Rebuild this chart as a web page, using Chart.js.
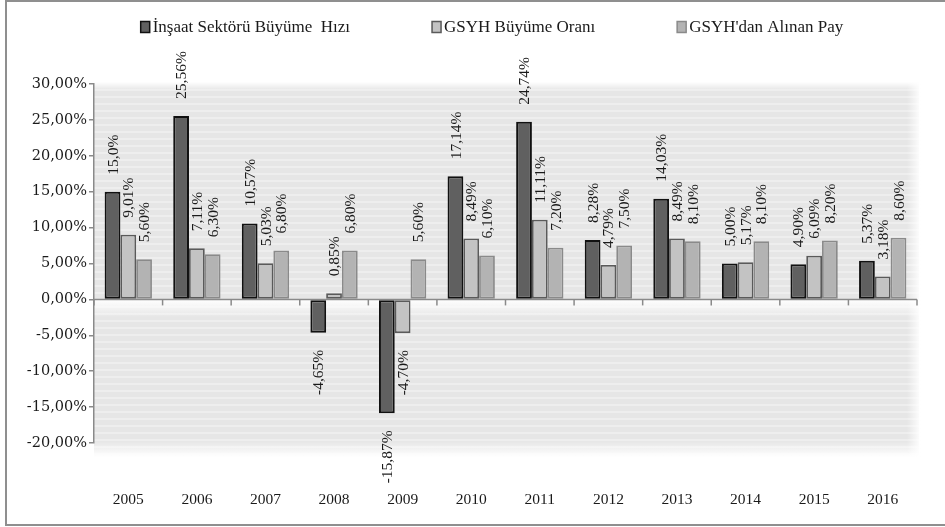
<!DOCTYPE html>
<html><head><meta charset="utf-8">
<script src="https://cdn.jsdelivr.net/npm/chart.js@4.4.1/dist/chart.umd.min.js"></script>
<style>html,body{margin:0;padding:0;background:#fff}#wrap{width:945px;height:527px;position:relative}</style>
</head><body><div id="wrap"><canvas id="c" width="945" height="527"></canvas></div>
<script>
const years = ['2005','2006','2007','2008','2009','2010','2011','2012','2013','2014','2015','2016'];
const insaatGrowth = [15.0, 25.56, 10.57, -4.65, -15.87, 17.14, 24.74, 8.28, 14.03, 5.00, 4.90, 5.37];
const gdpGrowth = [9.01, 7.11, 5.03, 0.85, -4.70, 8.49, 11.11, 4.79, 8.49, 5.17, 6.09, 3.18];
const gdpShare = [5.60, 6.30, 6.80, 6.80, 5.60, 6.10, 7.20, 7.50, 8.10, 8.10, 8.20, 8.60];
const seriesNames = ['İnşaat Sektörü Büyüme  Hızı', 'GSYH Büyüme Oranı', "GSYH'dan Alınan Pay"];
const yTicks = [-20, -15, -10, -5, 0, 5, 10, 15, 20, 25, 30];
const labelOverrides = {0: {0: '15,0%'}};

const fmt = v => v.toFixed(2).replace('.', ',') + '%';
const SERIF = "'Liberation Serif', 'Times New Roman', serif";

const frame = {
  id: 'frame',
  beforeDraw(chart) {
    const ctx = chart.ctx;
    ctx.save();
    ctx.strokeStyle = '#8f8f8f';
    ctx.lineWidth = 2;
    ctx.strokeRect(6, 1, 960, 524);
    // plot background
    const a = chart.chartArea;
    const y0 = chart.scales.y.getPixelForValue(0);
    const L = a.left, R = a.right + 2, T = a.top - 2, B = a.bottom + 14;
    ctx.fillStyle = '#e6e6e6';
    ctx.fillRect(L, T, R - L, B - T);
    ctx.strokeStyle = '#f0f0f0';
    ctx.lineWidth = 1.6;
    for (let y = T + 8; y < B; y += 7) {
      ctx.beginPath(); ctx.moveTo(L, y); ctx.lineTo(R, y); ctx.stroke();
    }
    let g = ctx.createLinearGradient(0, T, 0, T + 8);
    g.addColorStop(0, 'rgba(255,255,255,1)'); g.addColorStop(1, 'rgba(255,255,255,0)');
    ctx.fillStyle = g; ctx.fillRect(L, T, R - L, 8);
    g = ctx.createLinearGradient(0, y0, 0, y0 + 18);
    g.addColorStop(0, 'rgba(255,255,255,1)'); g.addColorStop(1, 'rgba(255,255,255,0)');
    ctx.fillStyle = g; ctx.fillRect(L, y0, R - L, 18);
    g = ctx.createLinearGradient(0, B - 16, 0, B);
    g.addColorStop(0, 'rgba(255,255,255,0)'); g.addColorStop(1, 'rgba(255,255,255,1)');
    ctx.fillStyle = g; ctx.fillRect(L, B - 16, R - L, 17);
    g = ctx.createLinearGradient(R - 12, 0, R + 2, 0);
    g.addColorStop(0, 'rgba(255,255,255,0)'); g.addColorStop(1, 'rgba(255,255,255,1)');
    ctx.fillStyle = g; ctx.fillRect(R - 12, T, 15, B - T);
    ctx.restore();
  },
  beforeDatasetsDraw(chart) {
    const ctx = chart.ctx, a = chart.chartArea;
    const y0 = chart.scales.y.getPixelForValue(0);
    ctx.save();
    ctx.strokeStyle = '#8a8a8a';
    ctx.lineWidth = 1.5;
    ctx.beginPath(); ctx.moveTo(a.left, y0); ctx.lineTo(a.right, y0); ctx.stroke();
    const n = chart.data.labels.length;
    for (let i = 0; i <= n; i++) {
      const x = a.left + i * (a.right - a.left) / n;
      ctx.beginPath(); ctx.moveTo(x, y0); ctx.lineTo(x, y0 + 6); ctx.stroke();
    }
    ctx.restore();
  },
  afterDatasetsDraw(chart) {
    const ctx = chart.ctx;
    ctx.save();
    ctx.font = '15.5px ' + SERIF;
    ctx.fillStyle = '#1a1a1a';
    ctx.textBaseline = 'middle';
    chart.data.datasets.forEach((ds, di) => {
      const meta = chart.getDatasetMeta(di);
      meta.data.forEach((el, i) => {
        const v = ds.data[i];
        const txt = (labelOverrides[di] && labelOverrides[di][i]) || fmt(v);
        ctx.save();
        if (v >= 0) {
          ctx.translate(el.x, el.y - 17);
          ctx.rotate(-Math.PI / 2);
          ctx.textAlign = 'left';
        } else {
          ctx.translate(el.x, el.y + 17);
          ctx.rotate(-Math.PI / 2);
          ctx.textAlign = 'right';
        }
        ctx.fillText(txt, 0, 1);
        ctx.restore();
      });
    });
    // legend
    ctx.font = '17px ' + SERIF;
    ctx.textAlign = 'left';
    const dss = chart.data.datasets;
    const boxW = 9, boxH = 11, gapBT = 3, gapItem = 82;
    const widths = dss.map(d => boxW + gapBT + ctx.measureText(d.label).width);
    const total = widths.reduce((s, w) => s + w, 0) + gapItem * (dss.length - 1);
    let x = 492 - total / 2;
    const ly = 27;
    dss.forEach((d, i) => {
      ctx.fillStyle = d.backgroundColor;
      ctx.strokeStyle = d.borderColor;
      ctx.lineWidth = 1.5;
      ctx.fillRect(x, ly - boxH / 2, boxW, boxH);
      ctx.strokeRect(x, ly - boxH / 2, boxW, boxH);
      ctx.fillStyle = '#1a1a1a';
      ctx.fillText(d.label, x + boxW + gapBT, ly + 1);
      x += widths[i] + gapItem;
    });
    ctx.restore();
  }
};

new Chart(document.getElementById('c'), {
  type: 'bar',
  data: {
    labels: years,
    datasets: [
      { label: seriesNames[0], data: insaatGrowth, backgroundColor: '#606060', borderColor: '#111111', borderWidth: 2, borderSkipped: false },
      { label: seriesNames[1], data: gdpGrowth, backgroundColor: '#c3c3c3', borderColor: '#5a5a5a', borderWidth: 1.8, borderSkipped: false },
      { label: seriesNames[2], data: gdpShare, backgroundColor: '#b3b3b3', borderColor: '#8a8a8a', borderWidth: 1.8, borderSkipped: false }
    ]
  },
  options: {
    responsive: false,
    animation: false,
    events: [],
    layout: { padding: { top: 84, right: 28, bottom: 0, left: 0 } },
    datasets: { bar: { categoryPercentage: 0.69, barPercentage: 1.0 } },
    plugins: { legend: { display: false }, tooltip: { enabled: false } },
    scales: {
      x: {
        grid: { display: false },
        border: { display: false },
        ticks: { color: '#1a1a1a', font: { family: SERIF, size: 15.5 }, padding: 40, maxRotation: 0 },
        afterFit(s) { s.height = 84; }
      },
      y: {
        min: -20, max: 30,
        afterBuildTicks(s) { s.ticks = yTicks.map(v => ({ value: v })); },
        grid: { drawOnChartArea: false, drawTicks: true, tickLength: 5, color: '#8a8a8a', lineWidth: 1.5 },
        border: { display: true, color: '#8a8a8a', width: 1.5 },
        ticks: { color: '#1a1a1a', font: { family: "'DejaVu Serif', serif", size: 14.5 }, padding: 2, callback: v => fmt(v) },
        afterFit(s) { s.width = 94; }
      }
    }
  },
  plugins: [frame]
});
</script>
</body></html>
